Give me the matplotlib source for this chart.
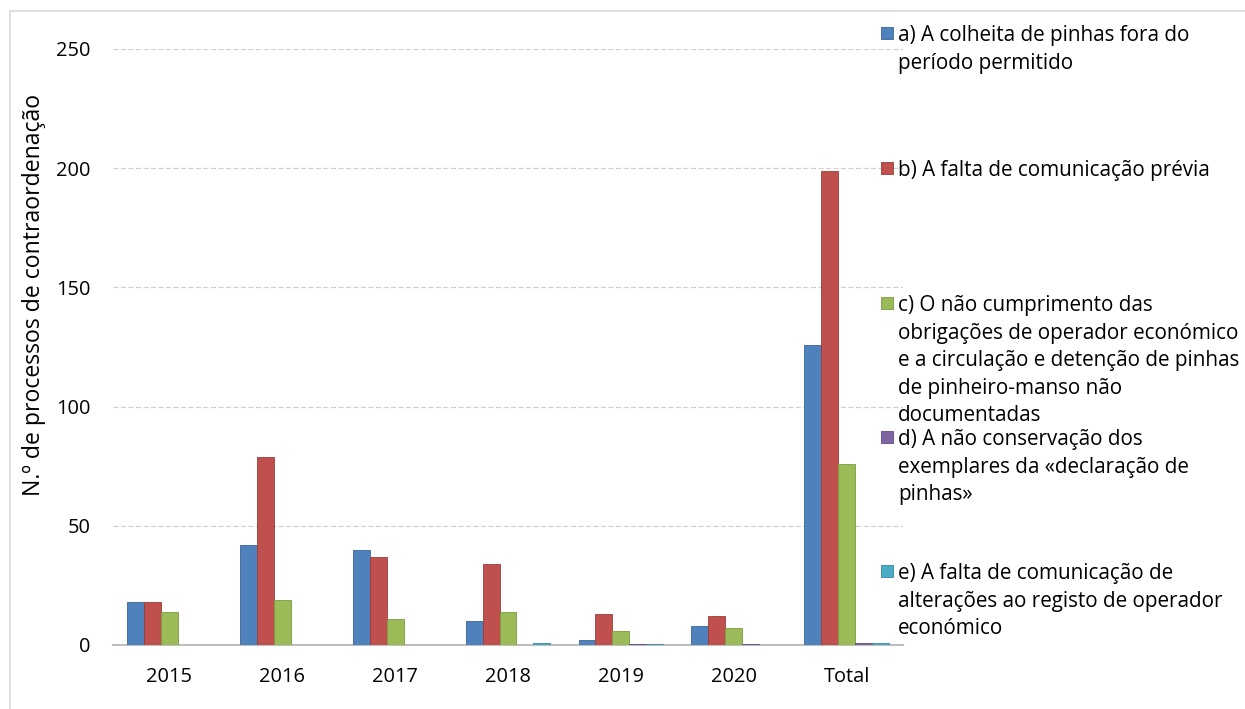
import matplotlib
matplotlib.use("Agg")
import matplotlib.pyplot as plt
import numpy as np
from matplotlib.patches import Rectangle
from matplotlib.lines import Line2D

categories = ["2015", "2016", "2017", "2018", "2019", "2020", "Total"]
series_labels = [
    "a) A colheita de pinhas fora do\nperíodo permitido",
    "b) A falta de comunicação prévia",
    "c) O não cumprimento das\nobrigações de operador económico\ne a circulação e detenção de pinhas\nde pinheiro-manso não\ndocumentadas",
    "d) A não conservação dos\nexemplares da «declaração de\npinhas»",
    "e) A falta de comunicação de\nalterações ao registo de operador\neconómico",
]
a_vals = [18, 42, 40, 10, 2, 8, 126]
b_vals = [18, 79, 37, 34, 13, 12, 199]
c_vals = [14, 19, 11, 14, 6, 7, 76]
d_vals = [0, 0, 0, 0, 0.5, 0.4, 1]
e_vals = [0, 0, 0, 1, 0.3, 0, 1]
yticks = [0, 50, 100, 150, 200, 250]
ylabel = "N.º de processos de contraordenação"

colors = ["#4F81BD", "#C0504D", "#9BBB59", "#8064A2", "#4BACC6"]
edges = ["#3A6495", "#9B3B38", "#7A9A40", "#5F4A7F", "#3489A0"]

FONT = ['Open Sans', 'DejaVu Sans']
plt.rcParams['font.family'] = FONT

W, H = 1245, 709
fig = plt.figure(figsize=(W / 100, H / 100), dpi=100)
renderer = fig.canvas.get_renderer()


def fit_size(text, target_px, start=14.0):
    t = fig.text(0, 0, text, fontsize=start)
    w = t.get_window_extent(renderer=renderer).width
    t.remove()
    return start * target_px / w


ax = fig.add_axes([113 / W, 1 - 645 / H, (903 - 113) / W, (645 - 49) / H])

x = np.arange(len(categories))
bw = 0.15
all_vals = [a_vals, b_vals, c_vals, d_vals, e_vals]
for i, vals in enumerate(all_vals):
    ax.bar(x + (i - 2) * bw, vals, width=bw, color=colors[i],
           edgecolor=edges[i], linewidth=0.6, zorder=3)

tick_fs = fit_size("2015", 46)
ax.set_xlim(-0.5, len(categories) - 0.5)
ax.set_ylim(0, 250)
ax.set_yticks(yticks)
ax.set_xticks(x)
ax.set_xticklabels(categories)
ax.tick_params(axis='both', length=0, labelsize=tick_fs, colors="#000000")
ax.tick_params(axis='x', pad=16)
ax.tick_params(axis='y', pad=16)
ax.grid(axis='y', color="#D0D0D0", linestyle=(0, (4, 2)), linewidth=0.9, zorder=0)
for s in ["top", "right", "left"]:
    ax.spines[s].set_visible(False)
ax.spines["bottom"].set_color("#BFBFBF")
ax.spines["bottom"].set_linewidth(1.5)

ylab_fs = fit_size(ylabel, 405)
fig.text(34 / W, 1 - 295 / H, ylabel, rotation=90, fontsize=ylab_fs,
         ha='center', va='center')

# legend placed manually, uniform slots like the reference
leg_fs = fit_size("a) A colheita de pinhas fora do", 294)
line_h = 27.5
first_line_y = [33, 168, 303, 437, 571]
for i, lab in enumerate(series_labels):
    yc = first_line_y[i]
    fig.patches.append(Rectangle((881 / W, 1 - (yc + 6) / H), 12 / W, 12 / H,
                                 transform=fig.transFigure, facecolor=colors[i],
                                 edgecolor=edges[i], linewidth=0.6, zorder=5))
    for j, line in enumerate(lab.split("\n")):
        fig.text(898 / W, 1 - (yc + j * line_h) / H, line, fontsize=leg_fs,
                 va='center_baseline', ha='left')

# chart area border
fig.add_artist(Line2D([10 / W, 10 / W], [0, 1 - 11 / H], transform=fig.transFigure,
                      color="#D9D9D9", linewidth=1.2))
fig.add_artist(Line2D([10 / W, 1], [1 - 11 / H, 1 - 11 / H], transform=fig.transFigure,
                      color="#D9D9D9", linewidth=1.2))

fig.savefig("out.png", dpi=100)
